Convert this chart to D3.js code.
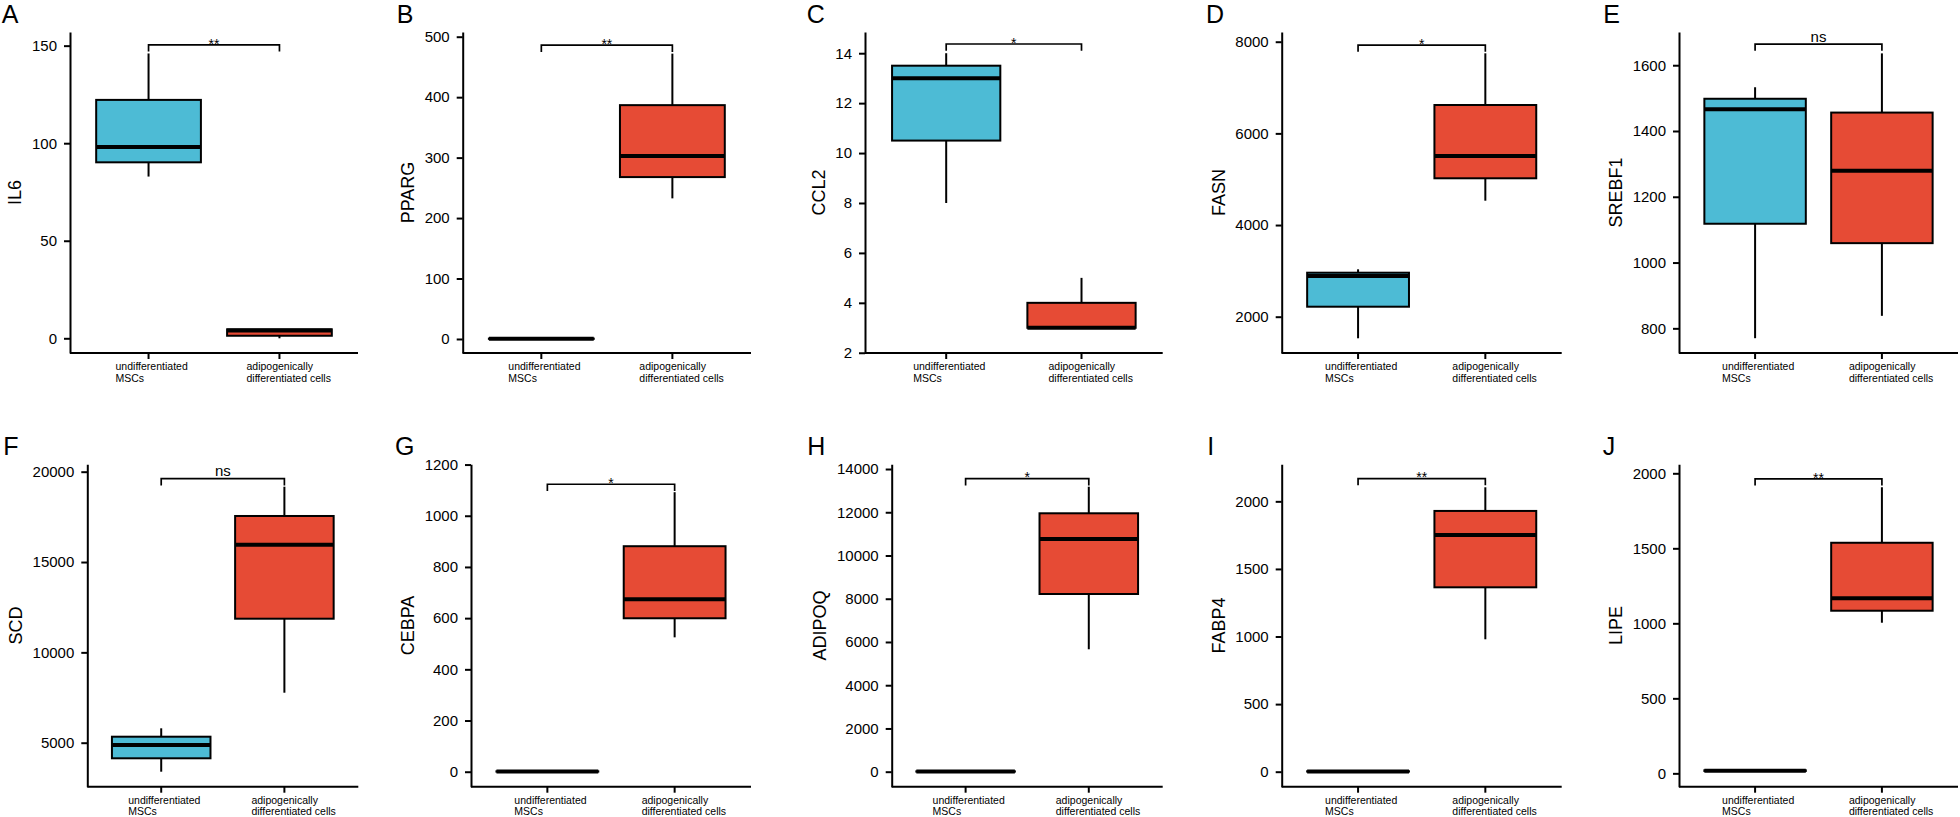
<!DOCTYPE html>
<html>
<head>
<meta charset="utf-8">
<script src="https://cdn.jsdelivr.net/npm/d3@7"></script>
<style>
  html, body { margin: 0; padding: 0; background: #ffffff; }
  svg { display: block; }
  text { font-family: "Liberation Sans", Arial, Helvetica, sans-serif; fill: #000; }
</style>
</head>
<body>
<script>
// ---------------- DATA ----------------
const genes = ["IL6", "PPARG", "CCL2", "FASN", "SREBF1", "SCD", "CEBPA", "ADIPOQ", "FABP4", "LIPE"];
const panelLetters = ["A", "B", "C", "D", "E", "F", "G", "H", "I", "J"];
const groupLabels = [["undifferentiated", "MSCs"], ["adipogenically", "differentiated cells"]];

// box stats per gene: [min, q1, median, q3, max]
const mscStats = [
  [82.9, 90.2, 98.1, 122.2, 146],
  [0, 0.2, 0.4, 0.6, 1.0],
  [8.0, 10.5, 13.0, 13.5, 14.0],
  [1529, 2218, 2888, 2960, 3034],
  [770, 1118, 1466, 1498, 1533],
  [3395, 4137, 4873, 5332, 5797],
  [0, 0.5, 1, 1.5, 2],
  [0, 5, 10, 15, 20],
  [0, 1, 2, 3, 4],
  [14, 16, 18, 20, 22]
];
const adipoStats = [
  [0, 1.3, 4.0, 4.6, 4.6],
  [232.6, 267.8, 302.5, 386.8, 472],
  [3.0, 3.0, 3.0, 4.0, 5.0],
  [4531, 5020, 5506, 6619, 7747],
  [838, 1059, 1279, 1456, 1636],
  [7767, 11863, 15959, 17548, 19169],
  [525, 599.5, 673.6, 881, 1092],
  [5662, 8219, 10763, 11952, 13182],
  [979.5, 1364, 1751, 1929, 2104],
  [1004, 1084, 1167, 1537, 1907]
];
const sigLabels = ["**", "**", "*", "*", "ns", "ns", "*", "*", "**", "**"];
const bracketValues = [150.4, 486, 14.37, 7927, 1664, 19612, 1123, 13552, 2168, 1963];
const yLimits = [
  [-7.54, 157.0], [-23.2, 507.8], [1.99, 14.85], [1208, 8212], [725, 1701],
  [2565, 20409], [-58.5, 1201], [-694, 14218], [-111, 2274], [-89, 2060]
];
const yTicks = [
  [0, 50, 100, 150],
  [0, 100, 200, 300, 400, 500],
  [2, 4, 6, 8, 10, 12, 14],
  [2000, 4000, 6000, 8000],
  [800, 1000, 1200, 1400, 1600],
  [5000, 10000, 15000, 20000],
  [0, 200, 400, 600, 800, 1000, 1200],
  [0, 2000, 4000, 6000, 8000, 10000, 12000, 14000],
  [0, 500, 1000, 1500, 2000],
  [0, 500, 1000, 1500, 2000]
];
const groupColors = ["#4DBBD5", "#E64B35"];

// ---------------- LAYOUT ----------------
const W = 1960, H = 817;
const plotLeft  = [70, 462.7, 865, 1281.7, 1679, 87.3, 471, 891.7, 1281.7, 1679];
const plotRight = [358, 751, 1162.7, 1561.7, 1958, 358.3, 751, 1162.7, 1561.7, 1958];
const rowTop = [32, 464.3], rowBottom = [353, 786.7];
const letterX = [1.7, 396.7, 806.7, 1206, 1603.3, 3.3, 395, 807.3, 1207.3, 1602.7];
const letterY = [22.7, 455];

const svg = d3.select("body").append("svg").attr("width", W).attr("height", H);

genes.forEach((gene, i) => {
  const row = i < 5 ? 0 : 1;
  const top = rowTop[row], bottom = rowBottom[row];
  const left = plotLeft[i], right = plotRight[i];
  const g = svg.append("g");

  const y = d3.scaleLinear().domain(yLimits[i]).range([bottom, top]);
  const x = d3.scalePoint().domain([0, 1]).range([left, right]).padding(0.6);
  const bw = x.step() * 0.8;

  // boxes
  [mscStats[i], adipoStats[i]].forEach((s, k) => {
    const cx = x(k);
    const [mn, q1, md, q3, mx] = s;
    const bg = g.append("g");
    bg.append("line").attr("x1", cx).attr("x2", cx).attr("y1", y(mx)).attr("y2", y(q3))
      .attr("stroke", "#000").attr("stroke-width", 2);
    bg.append("line").attr("x1", cx).attr("x2", cx).attr("y1", y(q1)).attr("y2", y(mn))
      .attr("stroke", "#000").attr("stroke-width", 2);
    bg.append("rect").attr("x", cx - bw / 2).attr("y", y(q3))
      .attr("width", bw).attr("height", Math.max(0, y(q1) - y(q3)))
      .attr("fill", groupColors[k]).attr("stroke", "#000").attr("stroke-width", 2);
    bg.append("line").attr("x1", cx - bw / 2).attr("x2", cx + bw / 2)
      .attr("y1", y(md)).attr("y2", y(md))
      .attr("stroke", "#000").attr("stroke-width", 4);
  });

  // y axis
  const ya = g.append("g").attr("transform", `translate(${left},0)`)
    .call(d3.axisLeft(y).tickValues(yTicks[i]).tickFormat(d3.format("d"))
      .tickSize(6).tickSizeOuter(0).tickPadding(7));
  ya.attr("font-family", null).attr("font-size", null);
  ya.select(".domain").attr("stroke", "#000").attr("stroke-width", 2);
  ya.selectAll(".tick line").attr("stroke", "#000").attr("stroke-width", 2);
  ya.selectAll(".tick text").attr("font-size", 15).attr("fill", "#000");

  const bb = ya.node().getBBox();
  const titleX = left + bb.x - 10.5;
  g.append("text")
    .attr("transform", `translate(${titleX},${(top + bottom) / 2}) rotate(-90)`)
    .attr("text-anchor", "middle").attr("font-size", 18).text(gene);

  // x axis
  g.append("line").attr("x1", left).attr("x2", right).attr("y1", bottom).attr("y2", bottom)
    .attr("stroke", "#000").attr("stroke-width", 2);
  [0, 1].forEach(k => {
    const cx = x(k);
    g.append("line").attr("x1", cx).attr("x2", cx).attr("y1", bottom).attr("y2", bottom + 6)
      .attr("stroke", "#000").attr("stroke-width", 2);
    const t = g.append("text").attr("font-size", 10.5).attr("text-anchor", "start");
    groupLabels[k].forEach((ln, j) => {
      t.append("tspan").attr("x", cx - 33).attr("y", bottom + 16.8 + j * 11.8).text(ln);
    });
  });

  // significance bracket
  const by = y(bracketValues[i]);
  const x0 = x(0), x1 = x(1);
  g.append("path")
    .attr("d", `M${x0},${by + 6.7}V${by}H${x1}V${by + 6.7}`)
    .attr("fill", "none").attr("stroke", "#000").attr("stroke-width", 1.7);
  const lab = sigLabels[i];
  g.append("text")
    .attr("x", (x0 + x1) / 2)
    .attr("y", lab === "ns" ? by - 2.3 : by + 3.8)
    .attr("text-anchor", "middle")
    .attr("font-size", lab === "ns" ? 15 : 14)
    .text(lab);

  // panel letter
  svg.append("text").attr("x", letterX[i]).attr("y", letterY[row])
    .attr("font-size", 25).text(panelLetters[i]);
});
</script>
</body>
</html>
